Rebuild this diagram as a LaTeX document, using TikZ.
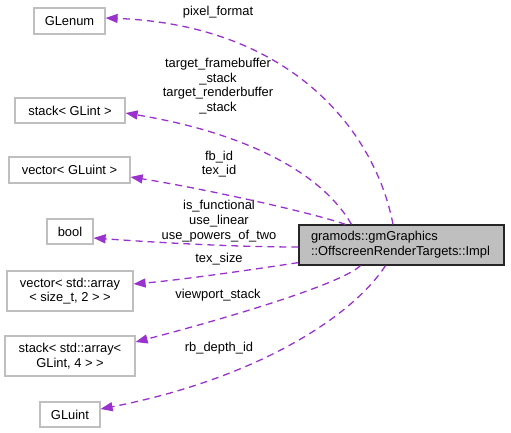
\documentclass[tikz,border=0pt]{standalone}
\usepackage{fontspec}
\setmainfont{Liberation Sans}
\usetikzlibrary{arrows.meta}
\definecolor{edgepurple}{HTML}{9A32CD}
\definecolor{boxgray}{HTML}{BFBFBF}

\begin{document}
\begin{tikzpicture}[x=1pt,y=-1pt,
  txt/.style={font=\fontsize{12.9}{14.7}\selectfont},
  box/.style={txt,draw=boxgray,fill=white,line width=1.2pt,inner sep=0pt,align=center},
  mainbox/.style={txt,draw=black!85,fill=boxgray,line width=1.2pt,inner sep=0pt,
    text width=181pt,align=left},
  lbl/.style={txt,inner sep=0pt,align=center},
  edge/.style={draw=edgepurple,line width=1.3pt,dash pattern=on 7pt off 5pt,
    arrows={-Triangle[length=12pt,width=9pt,fill=edgepurple]}}]
\useasboundingbox (0,0) rectangle (511,433);

\node [box,minimum width=71pt,minimum height=26pt] (glenum) at (69.5,21) {GLenum};
\node [box,minimum width=110pt,minimum height=25pt] (stackglint) at (70,110.5) {stack< GLint >};
\node [box,minimum width=121pt,minimum height=26pt] (vectorgluint) at (69.5,170) {vector< GLuint >};
\node [box,minimum width=46pt,minimum height=25pt] (bool) at (70,231.5) {bool};
\node [box,minimum width=126pt,minimum height=40pt] (vectorarray) at (70,291) {vector< std::array\\< size\_t, 2 > >};
\node [box,minimum width=130pt,minimum height=40pt] (stackarray) at (70,356) {stack< std::array<\\GLint, 4 > >};
\node [box,minimum width=60pt,minimum height=25pt] (gluint) at (70,414.5) {GLuint};
\node [mainbox,minimum width=205pt,minimum height=40pt] (impl) at (401.5,245)
  {gramods::gmGraphics\\::OffscreenRenderTargets::Impl};

\draw [edge] ([xshift=-8.5pt]impl.north) .. controls (375,130) and (290,25) .. ([yshift=3pt]glenum.east);
\draw [edge] ([xshift=-50pt]impl.north) .. controls (320,170) and (240,132) .. ([yshift=-2.5pt]stackglint.east);
\draw [edge] ([xshift=-56pt]impl.north) .. controls (310,212) and (200,188) .. ([yshift=-7pt]vectorgluint.east);
\draw [edge] ([yshift=-2pt]impl.west) .. controls (230,247) and (150,242) .. ([yshift=-6.5pt]bool.east);
\draw [edge] ([yshift=3pt]impl.south west) .. controls (250,270) and (180,280) .. ([yshift=7pt]vectorarray.east);
\draw [edge] ([xshift=-41pt]impl.south) .. controls (340,285) and (220,320) .. ([yshift=14pt]stackarray.east);
\draw [edge] ([xshift=-16pt]impl.south) .. controls (350,320) and (250,380) .. ([yshift=5.5pt]gluint.east);

\node [lbl] (pixelformat) at (218,12) {pixel\_format};
\node [lbl] (targetstack) at (218,86) {target\_framebuffer\\\_stack\\target\_renderbuffer\\\_stack};
\node [lbl] (fbid) at (219,164) {fb\_id\\tex\_id};
\node [lbl] (isfunctional) at (219,221) {is\_functional\\use\_linear\\use\_powers\_of\_two};
\node [lbl] (texsize) at (219,259) {tex\_size};
\node [lbl] (viewportstack) at (218,295) {viewport\_stack};
\node [lbl] (rbdepthid) at (219,348) {rb\_depth\_id};
\end{tikzpicture}
\end{document}
